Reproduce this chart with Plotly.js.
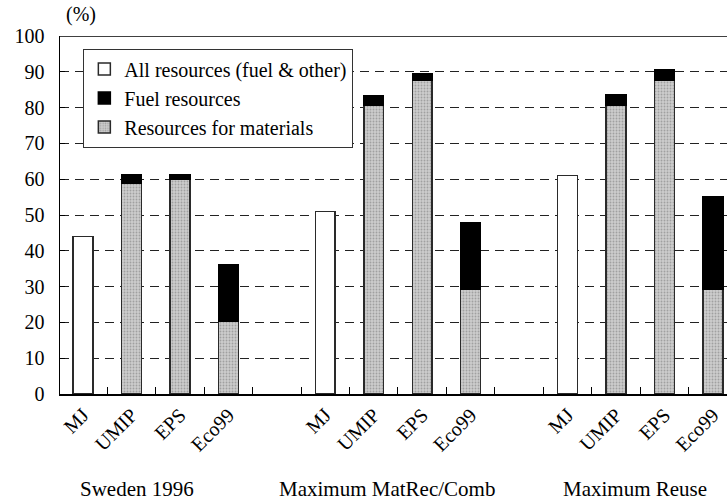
<!DOCTYPE html>
<html>
<head>
<meta charset="utf-8">
<script src="https://cdn.plot.ly/plotly-3.0.1.min.js"></script>
<style>html,body{margin:0;padding:0;background:#fff}#chart{width:727px;height:501px}</style>
</head>
<body>
<div id="chart"></div>
<script>
// ---- data ----
var groups = ["Sweden 1996", "Maximum MatRec/Comb", "Maximum Reuse"];
var methods = ["MJ", "UMIP", "EPS", "Eco99"];
// All resources (fuel & other) – MJ only, per group
var allResources = [44, 51, 61];
// Resources for materials – UMIP, EPS, Eco99 per group
var materials = [
  [59, 60, 20.2],
  [80.6, 87.6, 29.3],
  [80.6, 87.6, 29.3]
];
// Fuel resources (stacked on top) – UMIP, EPS, Eco99 per group
var fuel = [
  [2.3, 1.3, 15.9],
  [2.6, 1.9, 18.4],
  [3.0, 3.0, 25.9]
];

// ---- build slot positions (4 methods + 1 empty slot per group) ----
var slotsPerGroup = methods.length + 1;
function slot(g, m) { return g * slotsPerGroup + m; }

var allX = [], allY = [];
var matX = [], matY = [], fuelY = [];
var tickVals = [], tickText = [], halfTicks = [];
groups.forEach(function (gName, g) {
  allX.push(slot(g, 0)); allY.push(allResources[g]);
  for (var m = 1; m < methods.length; m++) {
    matX.push(slot(g, m));
    matY.push(materials[g][m - 1]);
    fuelY.push(fuel[g][m - 1]);
  }
  methods.forEach(function (mName, m) {
    tickVals.push(slot(g, m)); tickText.push(mName);
  });
});
for (var h = 0; h < groups.length * slotsPerGroup; h++) halfTicks.push(h + 0.5);

var FONT = "Liberation Serif";
var barW = 0.41;
var lineCol = "#2a2a2a";

var traces = [
  {
    type: "bar", name: "All resources (fuel & other)", x: allX, y: allY, width: barW,
    marker: {color: "#ffffff", line: {color: lineCol, width: 1.5}}, legendrank: 1
  },
  {
    type: "bar", name: "Resources for materials", x: matX, y: matY, width: barW,
    marker: {color: "#c6c6c6", line: {color: lineCol, width: 1.5},
      pattern: {shape: ".", bgcolor: "#cdcdcd", fgcolor: "#a0a0a0", size: 3, solidity: 0.3}},
    legendrank: 3
  },
  {
    type: "bar", name: "Fuel resources", x: matX, y: fuelY, width: barW,
    marker: {color: "#000000", line: {color: "#000000", width: 1.5}}, legendrank: 2
  }
];

var groupLabelX = [1.12, 6.27, 11.39];
var annotations = groups.map(function (gName, g) {
  return {text: gName, x: groupLabelX[g], xref: "x", y: -0.265, yref: "paper",
    xanchor: "center", yanchor: "middle", showarrow: false,
    font: {family: FONT, size: 21, color: "#000"}};
});
annotations.push({text: "(%)", x: 0.031, xref: "paper", y: 1.06, yref: "paper",
  xanchor: "center", yanchor: "middle", showarrow: false,
  font: {family: FONT, size: 20, color: "#000"}});

var layout = {
  width: 727, height: 501,
  margin: {l: 60, r: 0, t: 36, b: 107, pad: 0},
  paper_bgcolor: "#fff", plot_bgcolor: "#fff",
  barmode: "stack",
  font: {family: FONT, size: 20, color: "#000"},
  showlegend: true,
  legend: {
    x: 0.035, y: 0.965, xanchor: "left", yanchor: "top",
    bgcolor: "#fff", bordercolor: "#333", borderwidth: 1,
    font: {family: FONT, size: 20, color: "#000"},
    traceorder: "normal", itemwidth: 30, tracegroupgap: 0
  },
  xaxis: {
    range: [-0.475, 13.29], tickmode: "array", tickvals: tickVals, ticktext: tickText,
    tickangle: -45, ticks: "", showgrid: false, zeroline: false,
    showline: true, linecolor: "#000", linewidth: 1.5,
    tickfont: {family: FONT, size: 20, color: "#000"},
    minor: {tickmode: "array", tickvals: halfTicks, ticks: "inside", ticklen: 7, tickcolor: "#000", tickwidth: 1, showgrid: false},
    fixedrange: true
  },
  yaxis: {
    range: [0, 100], tickmode: "array", tickvals: [0,10,20,30,40,50,60,70,80,90,100],
    ticks: "inside", ticklen: 5, tickcolor: "#000", tickwidth: 1,
    showgrid: true, gridcolor: "#222", gridwidth: 1, griddash: "9px,6px",
    zeroline: false, showline: true, linecolor: "#000", linewidth: 1.5,
    tickfont: {family: FONT, size: 20, color: "#000"}, ticklabelstandoff: 10,
    fixedrange: true
  },
  shapes: [{type: "line", xref: "paper", yref: "y", x0: 0, x1: 1, y0: 100, y1: 100,
    line: {color: "#000", width: 1.5}}],
  annotations: annotations
};

Plotly.newPlot("chart", traces, layout, {displayModeBar: false, staticPlot: true});
</script>
</body>
</html>
